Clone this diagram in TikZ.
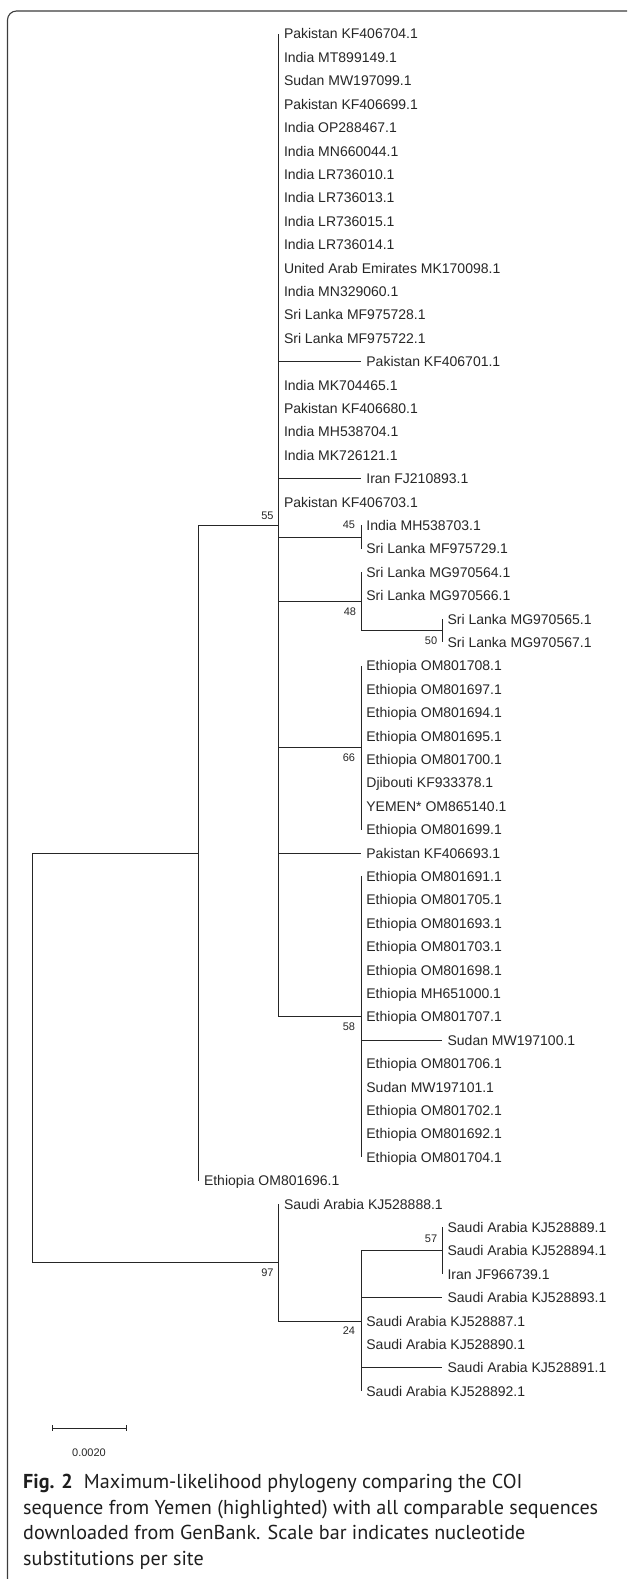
\documentclass[tikz,border=0pt]{standalone}
\usepackage{fontspec}
\setmainfont{Liberation Sans}
\newfontfamily\capfont{PT Sans}
\usetikzlibrary{calc}
\definecolor{ink}{HTML}{262626}
\definecolor{framec}{HTML}{3C3C3C}
\definecolor{capink}{HTML}{1E1E1E}
\newlength\capw
\newcommand\lf[4]{\coordinate (#1) at (#3,{ry(#2)});
  \node[leaflab] (#1n) at ($(#1)+(5,5)$) {#4};}
\begin{document}
\settowidth\capw{\capfont\fontsize{20}{24}\selectfont sequence from Yemen (highlighted) with all comparable sequences}%
\pgfmathsetmacro\capsz{20*575/\capw}%
\begin{tikzpicture}[x=1pt,y=-1pt,
  declare function={ry(\i)=34+(\i-1)*23.4;},
  br/.style={draw=ink,line width=0.9pt},
  leaflab/.style={anchor=base west,inner sep=0pt,text=ink,font=\fontsize{14}{16}\selectfont},
  bs/.style={inner sep=0pt,text=ink,font=\fontsize{11}{12}\selectfont},
  capline/.style={anchor=base west,inner sep=0pt,text=capink},
  framestyle/.style={draw=framec,line width=1.1pt,rounded corners=9pt}
]
\clip (0,0) rectangle (627,1579);
\draw[framestyle] (7.5,1590) -- (7.5,11) -- (636,11) -- (636,1590) -- cycle;

% internal nodes
\coordinate (root) at (32,{ry(44.75)});
\coordinate (A) at (198.8,{ry(36)});
\coordinate (C) at (278.8,{ry(22)});
\coordinate (B) at (278.8,{ry(53.5)});
\coordinate (D) at (361.2,{ry(56)});
\coordinate (n45) at (361.2,{ry(22.5)});
\coordinate (n48) at (361.2,{ry(25.25)});
\coordinate (n50) at (442.4,{ry(26.5)});
\coordinate (n66) at (361.2,{ry(31.5)});
\coordinate (n58) at (361.2,{ry(43)});
\coordinate (n57) at (442.4,{ry(53)});

% leaves
\lf{t1}{1}{278.8}{Pakistan KF406704.1}
\lf{t2}{2}{278.8}{India MT899149.1}
\lf{t3}{3}{278.8}{Sudan MW197099.1}
\lf{t4}{4}{278.8}{Pakistan KF406699.1}
\lf{t5}{5}{278.8}{India OP288467.1}
\lf{t6}{6}{278.8}{India MN660044.1}
\lf{t7}{7}{278.8}{India LR736010.1}
\lf{t8}{8}{278.8}{India LR736013.1}
\lf{t9}{9}{278.8}{India LR736015.1}
\lf{t10}{10}{278.8}{India LR736014.1}
\lf{t11}{11}{278.8}{United Arab Emirates MK170098.1}
\lf{t12}{12}{278.8}{India MN329060.1}
\lf{t13}{13}{278.8}{Sri Lanka MF975728.1}
\lf{t14}{14}{278.8}{Sri Lanka MF975722.1}
\lf{t15}{15}{361.2}{Pakistan KF406701.1}
\lf{t16}{16}{278.8}{India MK704465.1}
\lf{t17}{17}{278.8}{Pakistan KF406680.1}
\lf{t18}{18}{278.8}{India MH538704.1}
\lf{t19}{19}{278.8}{India MK726121.1}
\lf{t20}{20}{361.2}{Iran FJ210893.1}
\lf{t21}{21}{278.8}{Pakistan KF406703.1}
\lf{t22}{22}{361.2}{India MH538703.1}
\lf{t23}{23}{361.2}{Sri Lanka MF975729.1}
\lf{t24}{24}{361.2}{Sri Lanka MG970564.1}
\lf{t25}{25}{361.2}{Sri Lanka MG970566.1}
\lf{t26}{26}{442.4}{Sri Lanka MG970565.1}
\lf{t27}{27}{442.4}{Sri Lanka MG970567.1}
\lf{t28}{28}{361.2}{Ethiopia OM801708.1}
\lf{t29}{29}{361.2}{Ethiopia OM801697.1}
\lf{t30}{30}{361.2}{Ethiopia OM801694.1}
\lf{t31}{31}{361.2}{Ethiopia OM801695.1}
\lf{t32}{32}{361.2}{Ethiopia OM801700.1}
\lf{t33}{33}{361.2}{Djibouti KF933378.1}
\lf{t34}{34}{361.2}{YEMEN* OM865140.1}
\lf{t35}{35}{361.2}{Ethiopia OM801699.1}
\lf{t36}{36}{361.2}{Pakistan KF406693.1}
\lf{t37}{37}{361.2}{Ethiopia OM801691.1}
\lf{t38}{38}{361.2}{Ethiopia OM801705.1}
\lf{t39}{39}{361.2}{Ethiopia OM801693.1}
\lf{t40}{40}{361.2}{Ethiopia OM801703.1}
\lf{t41}{41}{361.2}{Ethiopia OM801698.1}
\lf{t42}{42}{361.2}{Ethiopia MH651000.1}
\lf{t43}{43}{361.2}{Ethiopia OM801707.1}
\lf{t44}{44}{442.4}{Sudan MW197100.1}
\lf{t45}{45}{361.2}{Ethiopia OM801706.1}
\lf{t46}{46}{361.2}{Sudan MW197101.1}
\lf{t47}{47}{361.2}{Ethiopia OM801702.1}
\lf{t48}{48}{361.2}{Ethiopia OM801692.1}
\lf{t49}{49}{361.2}{Ethiopia OM801704.1}
\lf{t50}{50}{198.8}{Ethiopia OM801696.1}
\lf{t51}{51}{278.8}{Saudi Arabia KJ528888.1}
\lf{t52}{52}{442.4}{Saudi Arabia KJ528889.1}
\lf{t53}{53}{442.4}{Saudi Arabia KJ528894.1}
\lf{t54}{54}{442.4}{Iran JF966739.1}
\lf{t55}{55}{442.4}{Saudi Arabia KJ528893.1}
\lf{t56}{56}{361.2}{Saudi Arabia KJ528887.1}
\lf{t57}{57}{361.2}{Saudi Arabia KJ528890.1}
\lf{t58}{58}{442.4}{Saudi Arabia KJ528891.1}
\lf{t59}{59}{361.2}{Saudi Arabia KJ528892.1}

% connectors
\foreach \c in {A,B} \draw[br] (root) |- (\c);
\foreach \c in {C,t50} \draw[br] (A) |- (\c);
\foreach \c in {t1,t2,t3,t4,t5,t6,t7,t8,t9,t10,t11,t12,t13,t14,t15,t16,t17,t18,t19,t20,t21,n45,n48,n66,t36,n58}
  \draw[br] (C) |- (\c);
\foreach \c in {t22,t23} \draw[br] (n45) |- (\c);
\foreach \c in {t24,t25,n50} \draw[br] (n48) |- (\c);
\foreach \c in {t26,t27} \draw[br] (n50) |- (\c);
\foreach \c in {t28,t29,t30,t31,t32,t33,t34,t35} \draw[br] (n66) |- (\c);
\foreach \c in {t37,t38,t39,t40,t41,t42,t43,t44,t45,t46,t47,t48,t49} \draw[br] (n58) |- (\c);
\foreach \c in {t51,D} \draw[br] (B) |- (\c);
\foreach \c in {n57,t55,t56,t57,t58,t59} \draw[br] (D) |- (\c);
\foreach \c in {t52,t53,t54} \draw[br] (n57) |- (\c);

% bootstrap values
\node[bs,anchor=south east] (b55) at ($(C)+(-5,-6)$) {55};
\node[bs,anchor=south east] (b45) at ($(n45)+(-6,-8)$) {45};
\node[bs,anchor=north east] (b48) at ($(n48)+(-5,6)$) {48};
\node[bs,anchor=north east] (b50) at ($(n50)+(-5,6)$) {50};
\node[bs,anchor=north east] (b66) at ($(n66)+(-6,6)$) {66};
\node[bs,anchor=north east] (b58) at ($(n58)+(-6,6)$) {58};
\node[bs,anchor=south east] (b57) at ($(n57)+(-5,-8)$) {57};
\node[bs,anchor=north east] (b97) at ($(B)+(-5,6)$) {97};
\node[bs,anchor=north east] (b24) at ($(D)+(-6,6)$) {24};

% scale bar
\coordinate (s1) at (52,1428);
\coordinate (s2) at (126,1428);
\draw[br] (s1) -- (s2);
\draw[br] ($(s1)+(0,-3)$) -- ($(s1)+(0,3)$);
\draw[br] ($(s2)+(0,-3)$) -- ($(s2)+(0,3)$);
\node[bs] (slab) at (89,1453) {0.0020};

% caption
\node[capline,font=\capfont\fontsize{\capsz}{25}\selectfont] (cap1) at (23,1488) {\textbf{Fig. 2}\hspace{0.55em}Maximum-likelihood phylogeny comparing the COI};
\node[capline,font=\capfont\fontsize{\capsz}{25}\selectfont] (cap2) at (23,1514) {sequence from Yemen (highlighted) with all comparable sequences};
\node[capline,font=\capfont\fontsize{\capsz}{25}\selectfont] (cap3) at (23,1539.5) {downloaded from GenBank. Scale bar indicates nucleotide};
\node[capline,font=\capfont\fontsize{\capsz}{25}\selectfont] (cap4) at (23,1565) {substitutions per site};
\end{tikzpicture}
\end{document}
